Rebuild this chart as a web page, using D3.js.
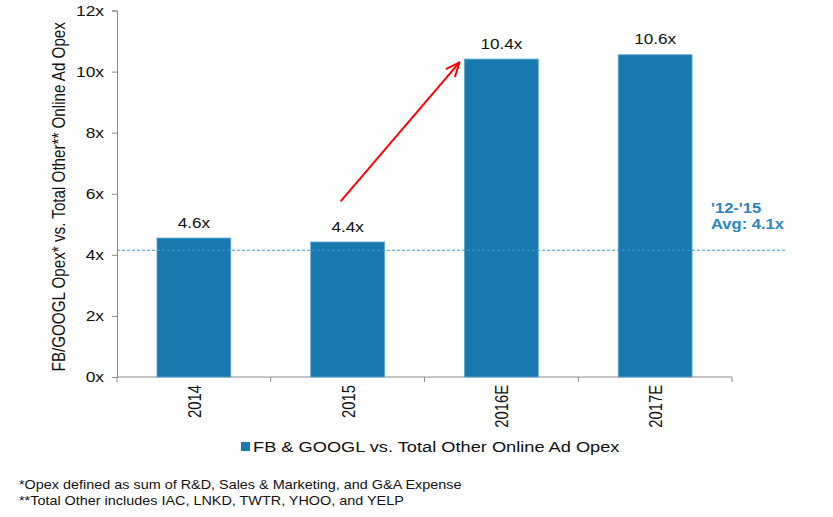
<!DOCTYPE html>
<html><head><meta charset="utf-8">
<script src="https://cdn.jsdelivr.net/npm/d3@7"></script>
<style>
body{margin:0;background:#fff;}
svg{font-family:"Liberation Sans",Arial,sans-serif;}
</style></head>
<body><svg id="c" width="833" height="517"></svg>
<script>
const categories = ["2014","2015","2016E","2017E"];
const values = [4.55, 4.42, 10.41, 10.55];
const valueLabels = ["4.6x","4.4x","10.4x","10.6x"];
const yTicks = [0,2,4,6,8,10,12];
const avgValue = 4.15;
const avgLabel = ["'12-'15","Avg: 4.1x"];
const arrowFrom = {cat:"2015", v:5.75};
const arrowTo = {cat:"2016E", v:10.3};
const seriesName = "FB & GOOGL vs. Total Other Online Ad Opex";
const yTitle = "FB/GOOGL Opex* vs. Total Other** Online Ad Opex";
const footnotes = ["*Opex defined as sum of R&D, Sales & Marketing, and G&A Expense",
                   "**Total Other includes IAC, LNKD, TWTR, YHOO, and YELP"];

const sx = 1.2; // horizontal stretch of the reference's text
const svg = d3.select("#c");
const barColor = "#1879ae";
const x = d3.scaleBand().domain(categories).range([117,732]).paddingInner(0.52).paddingOuter(0.26);
const y = d3.scaleLinear().domain([0,12]).range([377,10.5]);

// y axis
const yAxis = svg.append("g").attr("transform","translate(117,0)")
  .call(d3.axisLeft(y).tickValues(yTicks).tickFormat(d=>d+"x").tickSize(5).tickPadding(4));
yAxis.selectAll("path,line").attr("stroke","#8a8a8a");
yAxis.selectAll("text").attr("font-size",14.5).attr("fill","#111")
  .attr("font-family","Liberation Sans, Arial").attr("x",-13/sx).attr("transform",`scale(${sx},1)`);

// x axis
const xg = svg.append("g").attr("transform","translate(0,377)");
xg.append("line").attr("x1",117).attr("x2",732).attr("stroke","#8a8a8a");
const bounds = categories.map(c=>x(c)-x.step()*x.paddingInner()/2).concat([732]);
xg.selectAll("line.t").data(bounds).enter().append("line")
  .attr("x1",d=>d).attr("x2",d=>d).attr("y1",0).attr("y2",5).attr("stroke","#8a8a8a");
xg.selectAll("text").data(categories).enter().append("text")
  .attr("transform",d=>`translate(${x(d)+x.bandwidth()/2+7},8) scale(${sx},1) rotate(-90)`)
  .attr("text-anchor","end").attr("font-size",14.8).attr("fill","#111").text(d=>d);

// bars
svg.selectAll("rect.bar").data(values).enter().append("rect")
  .attr("x",(d,i)=>x(categories[i])).attr("width",x.bandwidth())
  .attr("y",d=>y(d)).attr("height",d=>y(0)-y(d))
  .attr("fill",barColor).attr("stroke","#5aa6d2").attr("stroke-width",0.8);

svg.selectAll("text.vl").data(values).enter().append("text")
  .attr("transform",(d,i)=>`translate(${x(categories[i])+x.bandwidth()/2},${y(d)-10.5}) scale(${sx},1)`)
  .attr("text-anchor","middle").attr("font-size",14.3).attr("fill","#111")
  .text((d,i)=>valueLabels[i]);

// avg line
svg.append("line").attr("x1",117).attr("x2",787).attr("y1",y(avgValue)).attr("y2",y(avgValue))
  .attr("stroke","#3c9cd2").attr("stroke-width",1.2).attr("stroke-dasharray","3,2");
svg.selectAll("text.avg").data(avgLabel).enter().append("text")
  .attr("transform",(d,i)=>`translate(711,${y(avgValue)-37+i*16}) scale(${sx},1)`)
  .attr("font-size",13.8).attr("font-weight","bold").attr("fill","#2c86c0").text(d=>d);

// arrow
const defs = svg.append("defs");
defs.append("marker").attr("id","ah").attr("viewBox","0 0 16 16").attr("refX",15).attr("refY",8)
  .attr("markerWidth",16).attr("markerHeight",16).attr("markerUnits","userSpaceOnUse").attr("orient","auto")
  .append("path").attr("d","M1,2 L15,8 L1,14").attr("fill","none").attr("stroke","#f00").attr("stroke-width",2);
svg.append("line")
  .attr("x1",x(arrowFrom.cat)+x.bandwidth()/2-7).attr("y1",y(arrowFrom.v))
  .attr("x2",x(arrowTo.cat)-5).attr("y2",y(arrowTo.v))
  .attr("stroke","#f00").attr("stroke-width",2).attr("marker-end","url(#ah)");

// y title
svg.append("text").attr("transform",`translate(64.5,${(y(12)+y(0))/2+3}) scale(${sx},1) rotate(-90)`)
  .attr("text-anchor","middle").attr("font-size",15.2).attr("fill","#111").text(yTitle);

// legend
svg.append("rect").attr("x",241).attr("y",442).attr("width",9).attr("height",9).attr("fill",barColor);
svg.append("text").attr("transform",`translate(253,451.5) scale(${sx},1)`)
  .attr("font-size",15.2).attr("fill","#111").text(seriesName);

// footnotes
svg.selectAll("text.fn").data(footnotes).enter().append("text")
  .attr("transform",(d,i)=>`translate(19,${489+i*16}) scale(${sx},1)`)
  .attr("font-size",12).attr("fill","#111").text(d=>d);
</script></body></html>
